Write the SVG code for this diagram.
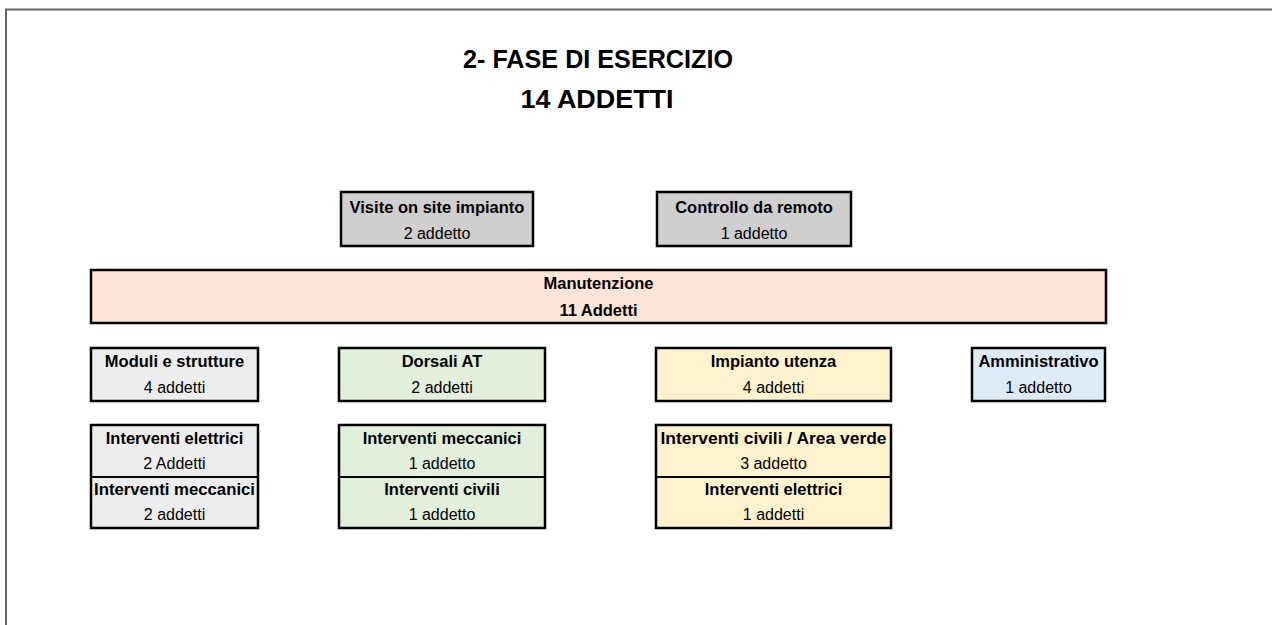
<svg xmlns="http://www.w3.org/2000/svg" width="1272" height="625" viewBox="0 0 1272 625">
<style>
.box{stroke:#000;stroke-width:2.5}
.div{stroke:#000;stroke-width:2}
.b{font-family:"Liberation Sans",Arial,sans-serif;font-weight:bold;font-size:16.5px;fill:#000;text-anchor:middle}
.r{font-family:"Liberation Sans",Arial,sans-serif;font-size:16px;fill:#000;text-anchor:middle}
.t{font-family:"Liberation Sans",Arial,sans-serif;font-weight:bold;font-size:25px;fill:#000;text-anchor:middle}
.gray{fill:#D0CECE}.peach{fill:#FCE4D6}.lgray{fill:#EDEDED}.green{fill:#E2EFDA}.yellow{fill:#FFF2CC}.blue{fill:#DDEBF7}
</style>
<rect width="1272" height="625" fill="#fff"/>
<path d="M6,625 V9.5 H1272" fill="none" stroke="#666" stroke-width="2"/>
<g id="title">
<text class="t" x="598" y="68" textLength="270" lengthAdjust="spacingAndGlyphs">2- FASE DI ESERCIZIO</text>
<text class="t" x="597" y="108" textLength="153" lengthAdjust="spacingAndGlyphs">14 ADDETTI</text>
</g>
<g id="connectors"/>
<g id="visite">
<rect class="box gray" x="341" y="192" width="192" height="54"/>
<text class="b" x="437" y="213">Visite on site impianto</text>
<text class="r" x="437" y="239">2 addetto</text>
</g>
<g id="controllo">
<rect class="box gray" x="657" y="192" width="194" height="54"/>
<text class="b" x="754" y="213">Controllo da remoto</text>
<text class="r" x="754" y="239">1 addetto</text>
</g>
<g id="manutenzione">
<rect class="box peach" x="91" y="270" width="1015" height="53"/>
<text class="b" x="598.5" y="289">Manutenzione</text>
<text class="b" x="598.5" y="316">11 Addetti</text>
</g>
<g id="moduli">
<rect class="box lgray" x="91" y="348" width="167" height="53"/>
<text class="b" x="174.5" y="367">Moduli e strutture</text>
<text class="r" x="174.5" y="393">4 addetti</text>
</g>
<g id="dorsali">
<rect class="box green" x="339" y="348" width="206" height="53"/>
<text class="b" x="442" y="367">Dorsali AT</text>
<text class="r" x="442" y="393">2 addetti</text>
</g>
<g id="impianto">
<rect class="box yellow" x="656" y="348" width="235" height="53"/>
<text class="b" x="773.5" y="367">Impianto utenza</text>
<text class="r" x="773.5" y="393">4 addetti</text>
</g>
<g id="amministrativo">
<rect class="box blue" x="972" y="348" width="133" height="53"/>
<text class="b" x="1038.5" y="367">Amministrativo</text>
<text class="r" x="1038.5" y="393">1 addetto</text>
</g>
<g id="moduli-interventi">
<rect class="box lgray" x="91" y="425" width="167" height="103"/>
<line class="div" x1="91" y1="477" x2="258" y2="477"/>
<text class="b" x="174.5" y="444">Interventi elettrici</text>
<text class="r" x="174.5" y="469">2 Addetti</text>
<text class="b" x="174.5" y="495" textLength="161" lengthAdjust="spacingAndGlyphs">Interventi meccanici</text>
<text class="r" x="174.5" y="520">2 addetti</text>
</g>
<g id="dorsali-interventi">
<rect class="box green" x="339" y="425" width="206" height="103"/>
<line class="div" x1="339" y1="477" x2="545" y2="477"/>
<text class="b" x="442" y="444">Interventi meccanici</text>
<text class="r" x="442" y="469">1 addetto</text>
<text class="b" x="442" y="495">Interventi civili</text>
<text class="r" x="442" y="520">1 addetto</text>
</g>
<g id="impianto-interventi">
<rect class="box yellow" x="656" y="425" width="235" height="103"/>
<line class="div" x1="656" y1="477" x2="891" y2="477"/>
<text class="b" x="773.5" y="444" textLength="226" lengthAdjust="spacingAndGlyphs">Interventi civili / Area verde</text>
<text class="r" x="773.5" y="469">3 addetto</text>
<text class="b" x="773.5" y="495">Interventi elettrici</text>
<text class="r" x="773.5" y="520">1 addetti</text>
</g>
</svg>
